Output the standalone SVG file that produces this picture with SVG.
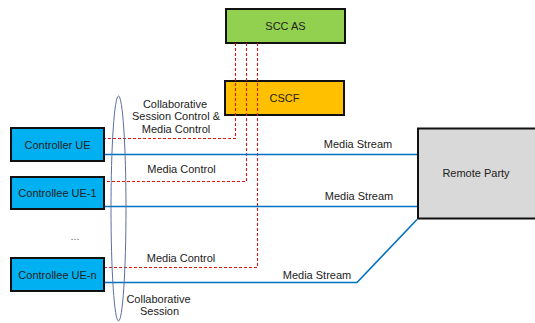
<svg xmlns="http://www.w3.org/2000/svg" width="535" height="323" viewBox="0 0 535 323">
<style>
  text { font-family: "Liberation Sans", Arial, sans-serif; font-size: 11px; fill: #222; }
  .node { stroke: #111; stroke-width: 2; }
  .lbl { text-anchor: middle; dominant-baseline: central; }
  .ctl { fill: none; stroke: #d81818; stroke-width: 1.1; stroke-dasharray: 3 2; }
  .ms { fill: none; stroke: #0070c0; stroke-width: 1.6; }
  .mid { text-anchor: middle; }
</style>
<rect width="535" height="323" fill="#ffffff"/>
<g id="scc-as">
  <rect class="node" x="226" y="9" width="119" height="34" fill="#92d050"/>
  <text class="lbl" x="285.5" y="26">SCC AS</text>
</g>
<g id="cscf">
  <rect class="node" x="225" y="81" width="119" height="34" fill="#ffc000"/>
  <text class="lbl" x="284.5" y="98">CSCF</text>
</g>
<g id="controller-ue">
  <rect class="node" x="11" y="128" width="93" height="33" fill="#00b0f0"/>
  <text class="lbl" x="57.5" y="144.5">Controller UE</text>
</g>
<g id="controllee-ue-1">
  <rect class="node" x="11" y="177" width="93" height="32" fill="#00b0f0"/>
  <text class="lbl" x="57.5" y="193">Controllee UE-1</text>
</g>
<g id="controllee-ue-n">
  <rect class="node" x="11" y="258" width="93" height="33" fill="#00b0f0"/>
  <text class="lbl" x="57.5" y="274.5">Controllee UE-n</text>
</g>
<g id="remote-party">
  <rect class="node" x="418" y="128.5" width="130" height="90" fill="#d9d9d9"/>
  <text class="lbl" x="476" y="173">Remote Party</text>
</g>
<g id="ellipsis">
  <text class="mid" x="75" y="240" style="fill:#666">...</text>
</g>
<g id="connectors">
  <polyline class="ctl" points="235.5,43 235.5,138.5 105,138.5"/>
  <polyline class="ctl" points="246.5,43 246.5,181.5 105,181.5"/>
  <polyline class="ctl" points="257.5,43 257.5,267.5 105,267.5"/>
  <line class="ms" x1="105" y1="154.5" x2="417" y2="154.5"/>
  <line class="ms" x1="105" y1="206.5" x2="417" y2="206.5"/>
  <polyline class="ms" points="105,282.5 357,282.5 417,219.5"/>
  <ellipse cx="118.5" cy="208.5" rx="7.5" ry="112.5" fill="none" stroke="#5a6fa0" stroke-width="1"/>
  <text class="mid" x="175" y="107.5">Collaborative</text>
  <text class="mid" x="176" y="120">Session Control &amp;</text>
  <text class="mid" x="176" y="132.5">Media Control</text>
  <text class="mid" x="181.5" y="172.5">Media Control</text>
  <text class="mid" x="181" y="261.5">Media Control</text>
  <text class="mid" x="358" y="147.5">Media Stream</text>
  <text class="mid" x="359" y="200">Media Stream</text>
  <text class="mid" x="317" y="279">Media Stream</text>
  <text class="mid" x="158.5" y="302.5">Collaborative</text>
  <text class="mid" x="159.5" y="315">Session</text>
</g>
</svg>
